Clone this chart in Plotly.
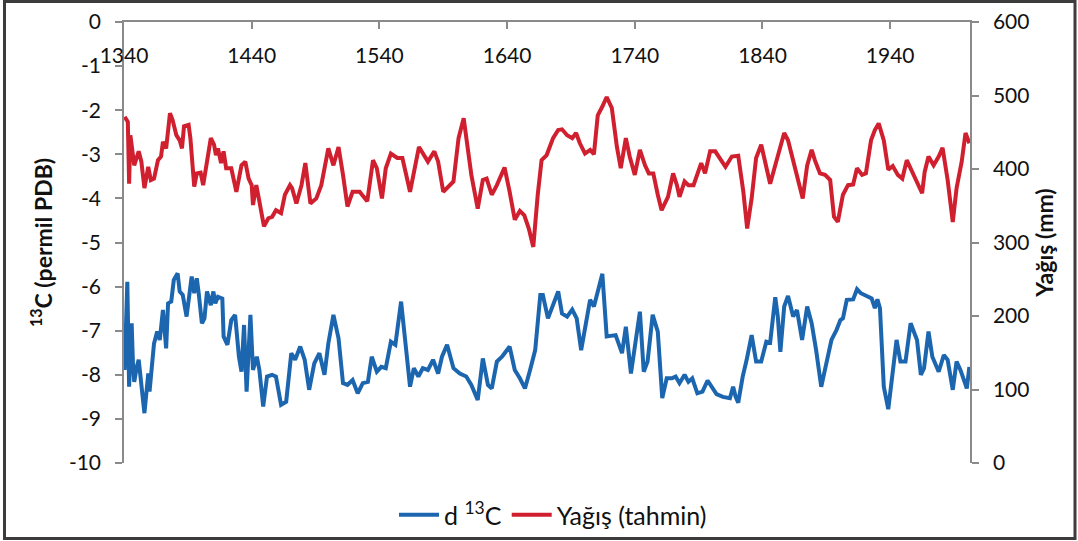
import plotly.graph_objects as go

# ---------------- data ----------------
d13c_years = [1340.5, 1342.6, 1344, 1346, 1347, 1348, 1350, 1351.5, 1356, 1359, 1360, 1363.5, 1366, 1368,
              1370.5, 1373, 1374.5, 1377, 1379, 1382, 1383.6, 1386, 1389, 1393, 1395, 1397, 1398.5, 1401,
              1403, 1405, 1408, 1410, 1411.5, 1413.6, 1417, 1418, 1421, 1424, 1427, 1430, 1432, 1434,
              1436, 1439, 1441, 1444, 1446, 1449, 1452, 1456, 1459, 1463, 1467, 1471, 1474, 1478,
              1481.5, 1485, 1489, 1493, 1497, 1500, 1504, 1508, 1511.5, 1515, 1519, 1523, 1527, 1531,
              1534, 1538, 1541.5, 1545, 1549, 1552.5, 1557, 1560, 1564, 1567, 1570.5, 1574, 1578, 1582,
              1586, 1589, 1593, 1598, 1603, 1608, 1612, 1617, 1621, 1625, 1628, 1632, 1636, 1642,
              1646, 1650, 1654, 1658, 1662, 1666, 1668, 1672, 1675, 1680, 1683, 1687, 1691, 1694.5,
              1698, 1701.5, 1705, 1708, 1711, 1714.6, 1718, 1722, 1725, 1730, 1733, 1737, 1741, 1744,
              1747, 1750, 1754, 1758, 1761.5, 1765, 1769, 1772, 1775, 1779, 1782, 1785, 1789, 1793,
              1797, 1800, 1804, 1809, 1814.5, 1817, 1819, 1821, 1824.5, 1827.6, 1831.5, 1835, 1839,
              1843, 1846, 1850, 1852, 1854, 1857, 1860, 1864, 1867, 1871, 1875, 1878.5, 1882, 1886,
              1890, 1894, 1898, 1901, 1903, 1906, 1911, 1914, 1917, 1922, 1925.5, 1928, 1930, 1932,
              1935, 1938.5, 1942, 1945, 1948, 1952, 1956, 1961, 1964, 1966.5, 1970, 1973, 1978, 1982,
              1985, 1989, 1992, 1995, 2000, 2002]
d13c_values = [-7.89, -5.89, -8.27, -6.83, -7.74, -8.16, -7.82, -7.66, -8.87, -7.97, -8.38, -7.29, -7.02, -7.21,
               -6.53, -7.40, -6.38, -6.34, -5.85, -5.70, -6.11, -6.19, -6.68, -5.77, -6.15, -5.81, -6.15, -6.83,
               -6.72, -6.11, -6.42, -6.11, -6.38, -6.23, -6.27, -7.13, -7.32, -6.76, -6.64, -7.59, -7.93, -6.87,
               -8.38, -6.64, -7.89, -7.59, -7.89, -8.72, -8.04, -8.00, -8.04, -8.68, -8.61, -7.51, -7.66, -7.36,
               -7.66, -8.34, -7.74, -7.51, -8.00, -7.29, -6.64, -7.17, -8.19, -8.23, -8.12, -8.42, -8.19, -8.16,
               -7.59, -7.93, -7.82, -7.85, -7.25, -7.32, -6.34, -7.21, -8.27, -7.85, -8.04, -7.85, -7.89, -7.66,
               -7.97, -7.59, -7.32, -7.85, -7.97, -8.04, -8.23, -8.57, -7.63, -8.23, -8.31, -7.70, -7.59, -7.36,
               -7.89, -8.08, -8.31, -7.89, -7.44, -6.19, -6.19, -6.72, -6.49, -6.11, -6.61, -6.68, -6.52, -6.72,
               -7.44, -6.87, -6.30, -6.45, -6.15, -5.71, -7.13, -7.10, -7.10, -7.51, -6.91, -7.97, -7.21, -6.57,
               -7.93, -7.70, -6.64, -7.02, -8.53, -8.08, -8.08, -8.04, -8.19, -8.00, -8.16, -8.08, -8.42, -8.38,
               -8.13, -8.27, -8.44, -8.50, -8.53, -8.27, -8.50, -8.63, -8.04, -7.66, -7.10, -7.70, -7.70,
               -7.25, -7.27, -6.24, -6.68, -7.48, -6.45, -6.21, -6.68, -6.53, -7.21, -6.45, -6.83, -7.44, -8.27,
               -7.74, -7.21, -6.98, -6.76, -6.72, -6.30, -6.29, -6.06, -6.15, -6.21, -6.27, -6.49, -6.29, -6.49,
               -8.27, -8.78, -7.97, -7.21, -7.70, -7.70, -6.83, -7.21, -8.00, -7.85, -7.02, -7.59, -7.93, -7.55,
               -7.66, -8.34, -7.70, -7.89, -8.31, -7.82]

yagis_years = [1340.5, 1343, 1344, 1345, 1348, 1350, 1351.5, 1353.6, 1356, 1359, 1361, 1363.5, 1366.6, 1369,
               1370.5, 1373, 1376, 1378, 1381, 1383.6, 1385.4, 1387, 1390.6, 1392, 1395, 1397, 1400, 1402,
               1404.5, 1408, 1410.5, 1412, 1413.6, 1416, 1418, 1420, 1424, 1428, 1432, 1435, 1437.6, 1440,
               1441, 1443.6, 1446, 1449.6, 1453, 1456, 1459, 1463, 1466, 1470, 1471.6, 1475, 1479, 1482,
               1486, 1490.6, 1494.5, 1500, 1504, 1508, 1511.5, 1515, 1519, 1524.5, 1530.5, 1535, 1538, 1542,
               1545, 1549, 1554, 1558, 1564, 1571, 1578, 1583, 1586, 1590, 1598, 1602, 1606, 1610, 1612,
               1617, 1621, 1624, 1628, 1632, 1638, 1642, 1646, 1650, 1653.5, 1657, 1660.5, 1664, 1667, 1671,
               1676, 1680, 1683, 1687, 1691, 1694, 1697, 1701, 1705, 1708, 1711, 1714.6, 1718, 1722, 1726,
               1729, 1733, 1736, 1740, 1744, 1748, 1751, 1754.5, 1758, 1761, 1766, 1770, 1773, 1775, 1779,
               1782, 1786, 1789, 1792, 1795, 1799, 1803, 1808, 1811, 1816, 1821, 1825, 1828, 1831.5, 1835,
               1839, 1843, 1846, 1850, 1853, 1857, 1860, 1864, 1868, 1871.5, 1875, 1878.5, 1881, 1885, 1889,
               1893, 1896, 1899, 1903, 1907, 1911, 1914, 1918, 1921, 1925, 1928, 1931, 1935, 1938.5, 1942,
               1946, 1949.5, 1953, 1957, 1961, 1965, 1967, 1970, 1974, 1978, 1981, 1985, 1989, 1992, 1996,
               1999, 2002]
yagis_mm = [471, 464, 380, 446, 405, 419, 424, 410, 374, 403, 385, 387, 412, 417,
            437, 428, 476, 467, 446, 439, 428, 458, 460, 442, 376, 394, 395, 378,
            405, 442, 433, 419, 428, 408, 424, 401, 401, 369, 405, 410, 387, 378,
            351, 378, 356, 322, 333, 335, 344, 340, 365, 378, 374, 353, 378, 408,
            353, 360, 378, 428, 405, 430, 392, 349, 369, 369, 356, 412, 401, 360,
            401, 421, 415, 415, 369, 430, 410, 424, 410, 369, 383, 442, 469, 410, 392,
            346, 385, 387, 365, 378, 402, 369, 331, 343, 337, 319, 294, 365, 412, 419,
            442, 453, 454, 446, 442, 449, 435, 421, 426, 420, 473, 485, 498, 483, 430,
            401, 442, 417, 392, 426, 405, 394, 394, 365, 344, 362, 394, 378, 362, 383,
            378, 378, 394, 408, 394, 424, 424, 410, 403, 417, 418, 369, 319, 360, 415,
            433, 405, 380, 405, 424, 449, 439, 410, 383, 360, 405, 426, 412, 394, 392,
            385, 335, 328, 365, 378, 379, 401, 392, 394, 439, 453, 462, 439, 399, 404,
            392, 387, 412, 397, 383, 367, 396, 417, 405, 417, 429, 385, 328, 374, 410,
            449, 435]

x_tick_years = [1340, 1440, 1540, 1640, 1740, 1840, 1940]
left_ticks = [0, -1, -2, -3, -4, -5, -6, -7, -8, -9, -10]
left_tick_text = [str(v) for v in left_ticks]
right_ticks = [0, 100, 200, 300, 400, 500, 600]

# ---------------- style ----------------
BLUE = "#1c66b0"
RED = "#d01f2e"
AXIS = "#8a8a8a"
FONT = "Lato"
W, H = 1078, 541
L, R, T, B = 124, 108, 22, 78
pw, ph = W - L - R, H - T - B


def px_x(x):
    return (x - L) / pw


def px_y(y):
    return (H - B - y) / ph


fig = go.Figure()
fig.add_trace(go.Scatter(x=d13c_years, y=d13c_values, name="d <sup>13</sup>C", mode="lines",
                         line=dict(color=BLUE, width=4), xaxis="x", yaxis="y"))
fig.add_trace(go.Scatter(x=yagis_years, y=yagis_mm, name="Yağış (tahmin)", mode="lines",
                         line=dict(color=RED, width=4), xaxis="x", yaxis="y2"))
# helper (invisible) trace so the label-only axis is drawn
fig.add_trace(go.Scatter(x=[x_tick_years[0]], y=[0], xaxis="x2", yaxis="y", mode="markers",
                         marker=dict(opacity=0), showlegend=False, hoverinfo="skip"))

fig.update_layout(
    width=W, height=H,
    margin=dict(l=L, r=R, t=T, b=B, autoexpand=False),
    paper_bgcolor="white", plot_bgcolor="white",
    font=dict(family=FONT, size=21, color="#111111"),
    showlegend=True,
    legend=dict(orientation="h", x=px_x(553), xanchor="center", y=px_y(515), yanchor="middle",
                font=dict(family=FONT, size=25, color="#111111"), itemwidth=40,
                bgcolor="rgba(0,0,0,0)"),
    xaxis=dict(range=[1340, 2002.5], side="top", anchor="y", showline=True, linecolor=AXIS, linewidth=1.5,
               ticks="inside", ticklen=7, tickcolor=AXIS, tickwidth=1.5, tickvals=x_tick_years,
               showticklabels=False, showgrid=False, zeroline=False, automargin=False),
    xaxis2=dict(overlaying="x", matches="x", anchor="free", position=px_y(41), side="bottom",
                showline=False, ticks="", tickvals=x_tick_years, showticklabels=True, automargin=False,
                showgrid=False, zeroline=False, tickfont=dict(family=FONT, size=21, color="#111111")),
    yaxis=dict(range=[-10, 0], tickvals=left_ticks, ticktext=left_tick_text, ticks="outside", ticklen=7,
               tickcolor=AXIS, tickwidth=1.5, showline=True, linecolor=AXIS, linewidth=1.5,
               showgrid=False, zeroline=False, ticklabelstandoff=10, automargin=False,
               title=dict(text="<b><sup>13</sup>C (permil PDB)</b>", standoff=10,
                          font=dict(family=FONT, size=23, color="#111111"))),
    yaxis2=dict(range=[0, 600], overlaying="y", side="right", anchor="x", tickvals=right_ticks,
                ticks="outside", ticklen=7, tickcolor=AXIS, tickwidth=1.5, showline=True, linecolor=AXIS,
                linewidth=1.5, showgrid=False, zeroline=False, ticklabelstandoff=10, automargin=False,
                title=dict(text="<b>Yağış (mm)</b>", standoff=8,
                           font=dict(family=FONT, size=23, color="#111111"))),
    shapes=[dict(type="rect", xref="paper", yref="paper",
                 x0=px_x(4.5), x1=px_x(1075), y0=px_y(538.5), y1=px_y(1.5),
                 line=dict(color="#3c3c3c", width=3), fillcolor="rgba(0,0,0,0)", layer="above")],
)

fig.write_html("out.html", config={"displayModeBar": False},
               post_script="document.body.style.margin='0';document.body.style.overflow='hidden';")
